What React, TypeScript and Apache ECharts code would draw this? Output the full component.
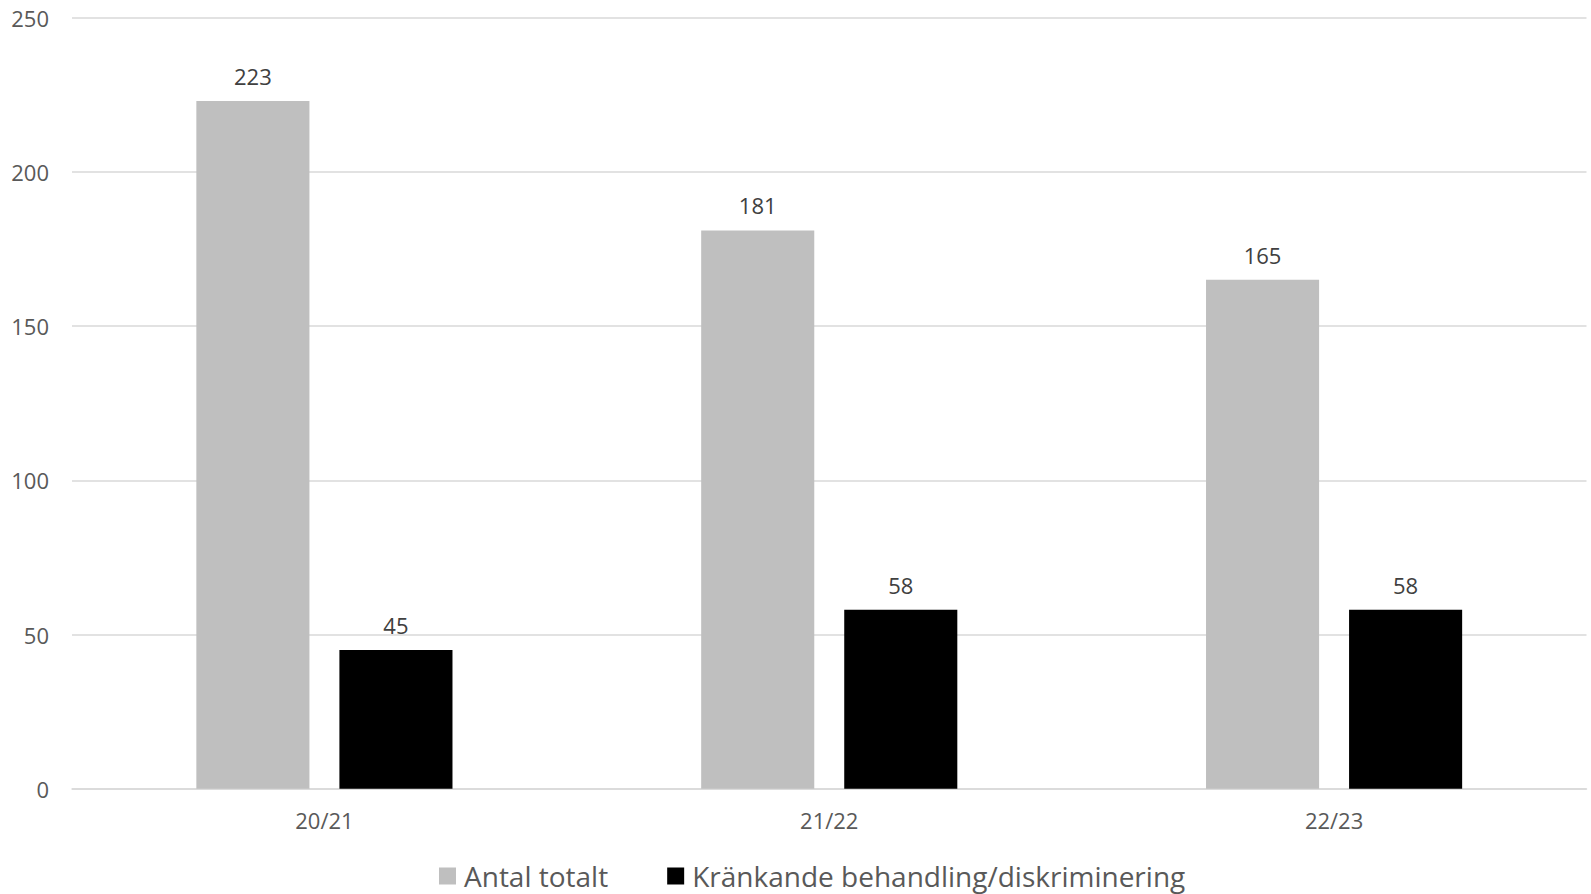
import React, { useEffect, useRef } from "react";
import * as echarts from "echarts";

const categories = ["20/21", "21/22", "22/23"];
const seriesNames = ["Antal totalt", "Kränkande behandling/diskriminering"];
const totalValues = [223, 181, 165];
const krankandeValues = [45, 58, 58];
const yTicks = { min: 0, max: 250, interval: 50 };

const FONT = "'Open Sans', sans-serif";

export default function App() {
  const ref = useRef<HTMLDivElement>(null);
  useEffect(() => {
    if (!ref.current) return;
    const chart = echarts.init(ref.current, undefined, { renderer: "svg" });
    chart.setOption({
      animation: false,
      textStyle: { fontFamily: FONT },
      grid: { left: 72, right: 4.5, top: 17.7, bottom: 105.3, containLabel: false },
      legend: {
        left: 434,
        top: 857,
        itemWidth: 17,
        itemHeight: 17,
        itemGap: 59,
        icon: "rect",
        textStyle: { fontSize: 28, color: "#595959", fontFamily: FONT, padding: [0, 0, 0, 3] },
        data: seriesNames,
      },
      xAxis: {
        type: "category",
        data: categories,
        axisTick: { show: false },
        axisLine: { lineStyle: { color: "#d9d9d9", width: 1.5 } },
        axisLabel: { fontSize: 22, color: "#595959", margin: 20, fontFamily: FONT },
      },
      yAxis: {
        type: "value",
        min: yTicks.min,
        max: yTicks.max,
        interval: yTicks.interval,
        axisLine: { show: false },
        axisTick: { show: false },
        splitLine: { lineStyle: { color: "#d9d9d9", width: 1.5 } },
        axisLabel: { fontSize: 22, color: "#595959", margin: 23, fontFamily: FONT },
      },
      series: [
        {
          name: seriesNames[0],
          type: "bar",
          data: totalValues,
          barWidth: "22.4%",
          barGap: "26.5%",
          itemStyle: { color: "#bfbfbf" },
          label: { show: true, position: "top", distance: 14, fontSize: 22, color: "#404040", fontFamily: FONT },
        },
        {
          name: seriesNames[1],
          type: "bar",
          data: krankandeValues,
          barWidth: "22.4%",
          barGap: "26.5%",
          itemStyle: { color: "#000000" },
          label: { show: true, position: "top", distance: 14, fontSize: 22, color: "#404040", fontFamily: FONT },
        },
      ],
    });
    return () => chart.dispose();
  }, []);
  return (
    <div
      ref={ref}
      style={{ position: "fixed", left: 0, top: 0, width: 1591, height: 894, background: "#fff" }}
    />
  );
}
